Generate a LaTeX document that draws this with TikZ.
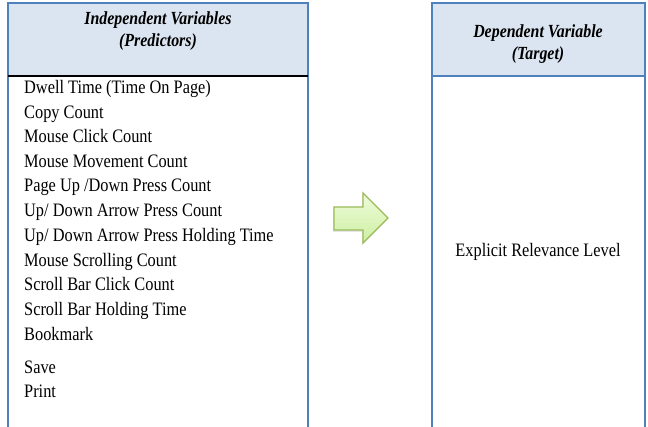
\documentclass[tikz,border=0pt]{standalone}
\usepackage{fontspec}
\setmainfont[FakeStretch=0.86]{Liberation Serif}
\usetikzlibrary{shadows}
\definecolor{boxblue}{HTML}{4F81BD}
\definecolor{headfill}{HTML}{DBE5F1}
\definecolor{arrowline}{HTML}{9BBB59}
\definecolor{arrowtop}{HTML}{EEFBDA}
\definecolor{arrowbot}{HTML}{CDF0A2}
\tikzset{
  frame/.style={draw=boxblue,line width=1.6pt},
  head/.style={font=\fontsize{18.5}{22}\selectfont\bfseries\itshape,align=center},
  item/.style={font=\fontsize{19}{20}\selectfont,anchor=base west,inner sep=0pt}
}
\begin{document}
\begin{tikzpicture}[x=1pt,y=-1pt]
  \useasboundingbox (0,0) rectangle (648,427);
  % left box: predictors
  \fill[headfill] (8,3) rectangle (308,76);
  \draw[frame] (8,428) -- (8,3) -- (308,3) -- (308,428);
  \draw[line width=1.4pt] (8,76) -- (308,76);
  \node[head] (predhead) at (158,31) {Independent Variables\\(Predictors)};
  \foreach \n/\y/\txt in {1/94/{Dwell Time (Time On Page)},2/118.5/{Copy Count},
      3/143/{Mouse Click Count},4/167.5/{Mouse Movement Count},
      5/192/{Page Up /Down Press Count},6/217/{Up/ Down Arrow Press Count},
      7/242/{Up/ Down Arrow Press Holding Time},8/266.5/{Mouse Scrolling Count},
      9/291/{Scroll Bar Click Count},10/316/{Scroll Bar Holding Time},
      11/340.5/{Bookmark},12/374/{Save},13/398/{Print}}
    \node[item] (item\n) at (24,\y) {\txt};
  % right box: target
  \fill[headfill] (432,3) rectangle (645,76);
  \draw[frame] (432,428) -- (432,3) -- (645,3) -- (645,428);
  \draw[boxblue,line width=1.2pt] (432,76) -- (645,76);
  \node[head] (targhead) at (538,44) {Dependent Variable\\(Target)};
  \node[font=\fontsize{19}{20}\selectfont,anchor=base,inner sep=0pt] (target) at (538,257) {Explicit Relevance Level};
  % arrow
  \draw[arrowline,line width=1.3pt,top color=arrowtop,bottom color=arrowbot,
        drop shadow={shadow xshift=-1pt,shadow yshift=-2pt,opacity=0.2}]
    (334,207) -- (363,207) -- (363,193) -- (388,218) -- (363,243) -- (363,230)
    -- (334,230) -- cycle;
\end{tikzpicture}
\end{document}
